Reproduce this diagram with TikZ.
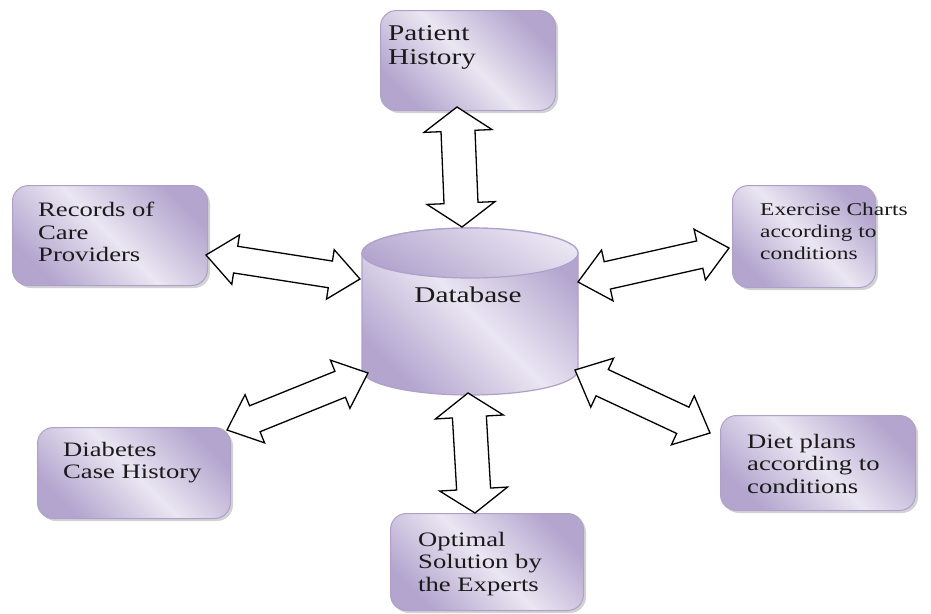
\documentclass[tikz,border=0pt]{standalone}
\usepackage{fontspec}
\setmainfont{Liberation Serif}
\newfontfamily\widefont[FakeStretch=1.3]{Liberation Serif}
\usetikzlibrary{calc,shadows}
\definecolor{lavdark}{HTML}{B3A5CE}
\definecolor{lavlight}{HTML}{EAE6F2}
\definecolor{lavedge}{HTML}{AFA0CB}
\definecolor{inkc}{HTML}{1A1A1A}
\tikzset{
  box/.style={draw=lavedge, line width=1pt, rounded corners=16pt,
    left color=lavdark, right color=lavdark, middle color=lavlight, shading angle=-45,
    drop shadow={shadow xshift=2.5pt, shadow yshift=-2.5pt, fill=black!35},
    anchor=north west, inner sep=0pt},
  txt/.style={align=left, anchor=north west, inner sep=0pt, text=inkc},
  barrow/.style={draw=black, fill=white, line width=1.3pt, line join=miter},
}
\newcommand\blockarrow[5]{%
  \coordinate (ba1) at ($(#1)!#3!(#2)$);
  \coordinate (ba2) at ($(#2)!#3!(#1)$);
  \draw[barrow] (#1) -- ($(ba1)!#4!90:(#2)$) -- ($(ba1)!#5!90:(#2)$)
    -- ($(ba2)!#5!-90:(#1)$) -- ($(ba2)!#4!-90:(#1)$) -- (#2)
    -- ($(ba2)!#4!90:(#1)$) -- ($(ba2)!#5!90:(#1)$)
    -- ($(ba1)!#5!-90:(#2)$) -- ($(ba1)!#4!-90:(#2)$) -- cycle;
}
\begin{document}
\begin{tikzpicture}[x=1pt,y=-1pt]
\useasboundingbox (0,0) rectangle (931,613);

% boxes
\node[box, minimum width=175pt, minimum height=100pt] (ph) at (380,10) {};
\node[box, minimum width=195pt, minimum height=100pt] (rc) at (12,185) {};
\node[box, minimum width=143pt, minimum height=102pt] (ex) at (732,185) {};
\node[box, minimum width=195pt, minimum height=95pt]  (dp) at (720,415) {};
\node[box, minimum width=193pt, minimum height=91pt]  (dc) at (37,427) {};
\node[box, minimum width=193pt, minimum height=97pt]  (os) at (390,513) {};

% database cylinder
\path[draw=lavedge, line width=1.2pt, left color=lavdark, right color=lavdark, middle color=lavlight, shading angle=-45]
  (362,253) -- (362,370) arc[start angle=180, end angle=0, x radius=108, y radius=25]
  -- (578,253) arc[start angle=0, end angle=-180, x radius=108, y radius=25] -- cycle;
\path[draw=lavedge, line width=1.2pt, left color=lavlight, right color=lavdark, shading angle=-30]
  (470,253) ellipse [x radius=108, y radius=25];

% texts
\node[txt, font=\widefont\fontsize{22.5}{24}\selectfont] (pht) at (388,25) {Patient\\History};
\node[txt, font=\widefont\fontsize{20.5}{22.5}\selectfont] (rct) at (38,202) {Records of\\Care\\Providers};
\node[txt, font=\widefont\fontsize{18}{21.7}\selectfont] (ext) at (760,203) {Exercise Charts\\according to\\conditions};
\node[txt, font=\widefont\fontsize{20.5}{22.5}\selectfont] (dpt) at (747,434) {Diet plans\\according to\\conditions};
\node[txt, font=\widefont\fontsize{20.5}{22.5}\selectfont] (dct) at (63,442) {Diabetes\\Case History};
\node[txt, font=\widefont\fontsize{20.5}{22.5}\selectfont] (ost) at (418,532) {Optimal\\Solution by\\the Experts};
\node[inner sep=0pt, text=inkc, font=\widefont\fontsize{22.5}{24}\selectfont] (db) at (468,295) {Database};

% arrow end points
\coordinate (t1) at (457,107); \coordinate (t2) at (462,227);
\coordinate (b1) at (468,393); \coordinate (b2) at (475,513);
\coordinate (r1) at (206,255); \coordinate (r2) at (360,279);
\coordinate (e1) at (578,282); \coordinate (e2) at (729,248);
\coordinate (d1) at (575,370); \coordinate (d2) at (710,433);
\coordinate (c1) at (227,430); \coordinate (c2) at (368,373);

\blockarrow{t1}{t2}{24pt}{34pt}{17pt}
\blockarrow{b1}{b2}{24pt}{34pt}{17pt}
\blockarrow{r1}{r2}{30pt}{25pt}{13.5pt}
\blockarrow{e1}{e2}{30pt}{26pt}{14pt}
\blockarrow{d1}{d2}{30pt}{27pt}{14.5pt}
\blockarrow{c1}{c2}{30pt}{26pt}{14pt}
\end{tikzpicture}
\end{document}
